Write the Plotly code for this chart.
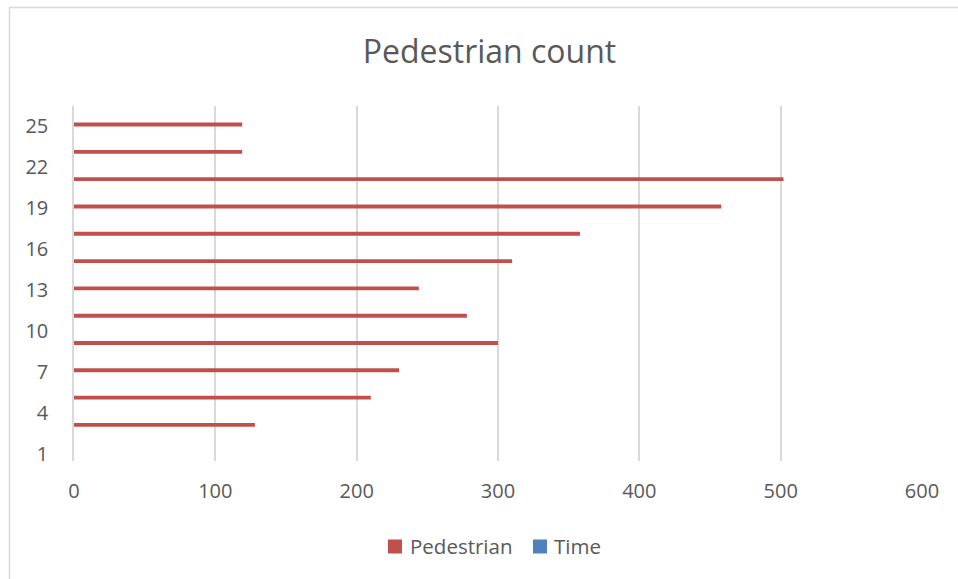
import plotly.graph_objects as go

categories = list(range(1, 27))
tick_labels = [1, 4, 7, 10, 13, 16, 19, 22, 25]
ped_cats = [3, 5, 7, 9, 11, 13, 15, 17, 19, 21, 23, 25]
ped_values = [128, 210, 230, 300, 278, 244, 310, 358, 458, 502, 119, 119]
time_values = [None] * len(categories)
series_names = ["Pedestrian", "Time"]
series_colors = ["#C0504D", "#4F81BD"]

W, H = 958, 579
L, R, T, B = 74, 36, 106, 118
pw, ph = W - L - R, H - T - B

font = "Open Sans"
grey = "#595959"


def px_x(p):
    return (p - L) / pw


def px_y(p):
    return (H - B - p) / ph


fig = go.Figure()
fig.add_trace(go.Bar(x=time_values, y=categories, orientation="h", name=series_names[1],
                     marker_color=series_colors[1], showlegend=False))
fig.add_trace(go.Bar(x=ped_values, y=ped_cats, orientation="h", name=series_names[0],
                     marker_color=series_colors[0], marker_line_width=0, showlegend=False))

shapes = [dict(type="rect", xref="paper", yref="paper",
               x0=px_x(9.5), x1=px_x(W + 20), y0=px_y(H + 20), y1=px_y(7.5),
               line=dict(color="#d9d9d9", width=1.5), fillcolor="rgba(0,0,0,0)",
               layer="below")]
annotations = []
# legend (drawn manually to match marker size and spacing)
legend_sq_x = [388, 533]
legend_txt_x = [408, 552]
for name, color, sx, tx in zip(series_names, series_colors, legend_sq_x, legend_txt_x):
    shapes.append(dict(type="rect", xref="paper", yref="paper",
                       x0=px_x(sx), x1=px_x(sx + 14), y0=px_y(553.5), y1=px_y(539.5),
                       line=dict(width=0), fillcolor=color))
    annotations.append(dict(text=name, xref="paper", yref="paper", x=px_x(tx), y=px_y(546),
                            xanchor="left", yanchor="middle", showarrow=False,
                            font=dict(family=font, size=20.5, color=grey)))

fig.update_layout(
    width=W, height=H,
    margin=dict(l=L, r=R, t=T, b=B),
    paper_bgcolor="white", plot_bgcolor="white",
    barmode="group", bargap=0.43, bargroupgap=0,
    title=dict(text="Pedestrian count", x=px_x(489.5), xref="paper", xanchor="center",
               y=1 - 52 / H, yanchor="middle",
               font=dict(family=font, size=32, color=grey)),
    font=dict(family=font, color=grey),
    showlegend=False,
    xaxis=dict(range=[0, 600], dtick=100, tick0=0, showgrid=True,
               gridcolor="#d9d9d9", gridwidth=1.5, zeroline=False, showline=False,
               tickfont=dict(family=font, size=20, color=grey),
               ticklabelstandoff=16, fixedrange=True),
    yaxis=dict(range=[0.5, 26.5], tickmode="array", tickvals=tick_labels,
               ticktext=[str(v) for v in tick_labels],
               showgrid=False, zeroline=False, showline=True,
               linecolor="#d9d9d9", linewidth=1.5,
               tickfont=dict(family=font, size=20, color=grey),
               ticklabelstandoff=20, fixedrange=True),
    shapes=shapes,
    annotations=annotations,
)

fig.write_html("out.html")
